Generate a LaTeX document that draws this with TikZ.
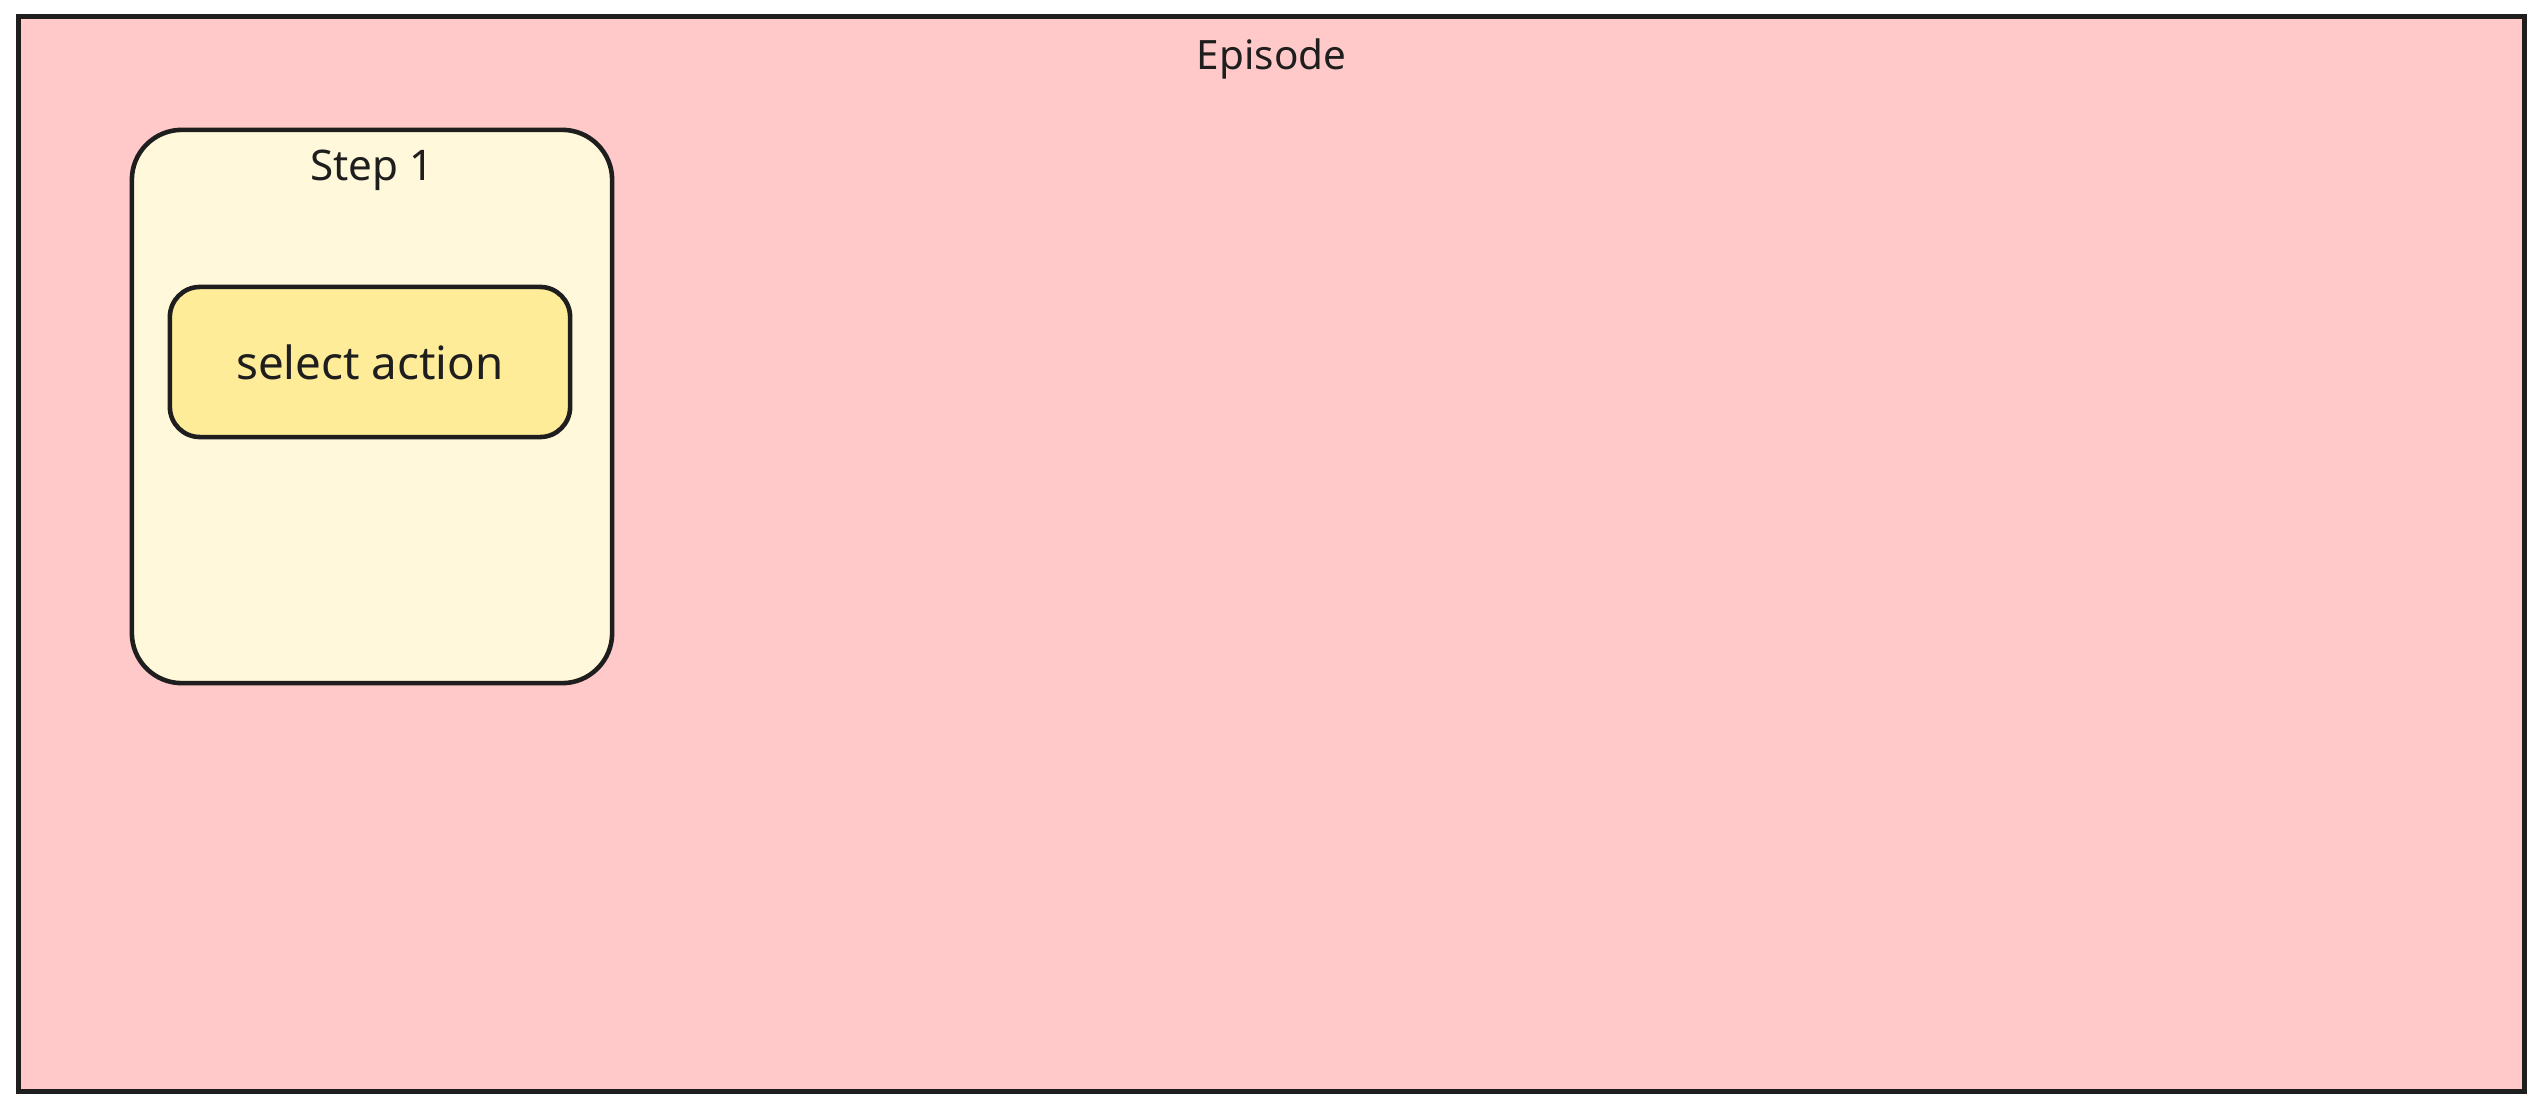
\documentclass[tikz,border=0pt]{standalone}
\usepackage{fontspec}
\setmainfont{Noto Sans}
\usepackage{xcolor}
\usepackage{tikz}
\usetikzlibrary{calc, positioning}

\definecolor{inkline}{HTML}{1E1E1E}
\definecolor{episodefill}{HTML}{FFC9C9}
\definecolor{stepfill}{HTML}{FFF8DA}
\definecolor{actionfill}{HTML}{FFEC99}

\tikzset{
	box/.style = {draw = inkline, line width = 1.3pt, inner sep = 0pt},
	episodebox/.style = {box, fill = episodefill, minimum width = 25.05cm, minimum height = 10.74cm},
	stepbox/.style = {box, fill = stepfill, rounded corners = 0.5cm, minimum width = 4.8cm, minimum height = 5.53cm},
	actionbox/.style = {box, fill = actionfill, rounded corners = 0.3cm, minimum width = 4cm, minimum height = 1.5cm},
	label/.style = {text = inkline, font = \fontsize{12}{14}\selectfont}
}

\begin{document}
\begin{tikzpicture}[x = 0.01cm, y = -0.01cm]
	\useasboundingbox (0,0) rectangle (2545,1113);
	
	\node [episodebox] (episode) at (1271.5,554) {};
	\node [label, font = \fontsize{11.5}{14}\selectfont, below = 0.12cm of episode.north] (episodetitle) {Episode};
	
	\node [stepbox] (step) at (372,406.5) {};
	\node [label, below = 0.1cm of step.north] (steptitle) {Step 1};
	
	\node [actionbox, label, font = \fontsize{13}{16}\selectfont] (action) at (370,362) {select action};
\end{tikzpicture}
\end{document}
